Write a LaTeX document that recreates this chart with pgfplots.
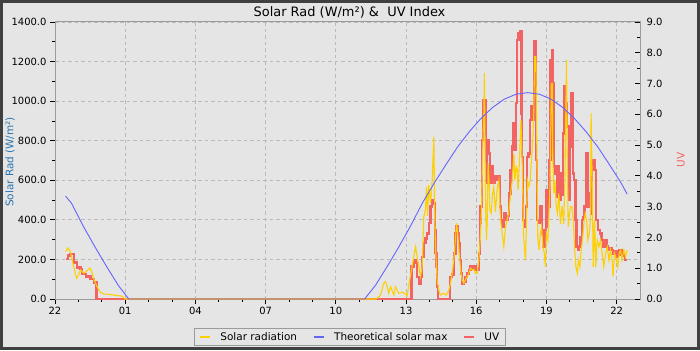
\documentclass[border=0pt]{standalone}
\usepackage{fontspec}
\setmainfont{DejaVu Sans}
\usepackage{pgfplots}
\pgfplotsset{compat=1.18}
\definecolor{bg}{RGB}{229,229,229}
\definecolor{framec}{RGB}{64,64,64}
\definecolor{axgray}{RGB}{155,155,155}
\definecolor{gridc}{RGB}{185,185,185}
\definecolor{solarc}{RGB}{255,208,0}
\definecolor{maxc}{RGB}{100,100,255}
\definecolor{uvc}{RGB}{242,100,100}
\definecolor{lblblue}{RGB}{40,115,175}
\pgfplotsset{
  base/.style={scale only axis, width=585bp, height=277bp, at={(55bp,51bp)}, anchor=south west,
    xmin=0, xmax=25,
    /pgf/number format/assume math mode=true,
    tick label style={font=\fontsize{10}{12}\selectfont, black},
    every tick/.style={black, line width=0.8bp},
    major tick length=5bp, minor tick length=3bp},
}
\begin{document}
\begin{tikzpicture}[x=1bp,y=1bp]
\fill[framec] (0,0) rectangle (700,350);
\fill[bg] (3,3) rectangle (697,347);
% base axis: grid, x axis, left y axis
\begin{axis}[base, ymin=0, ymax=1400,
  axis line style={axgray, line width=1bp},
  xtick={0,3,...,24}, xticklabels={22,01,04,07,10,13,16,19,22},
  minor xtick={1,2,4,5,7,8,10,11,13,14,16,17,19,20,22,23},
  ytick={0,200,...,1400}, minor ytick={100,300,...,1300},
  tick pos=left, tick align=outside,
  grid=major, major grid style={gridc, dash pattern=on 3.5bp off 3bp, line width=0.8bp},
  yticklabel style={/pgf/number format/.cd, fixed, fixed zerofill, precision=1, 1000 sep={}},
]
\addplot[draw=none] coordinates {(0,0)};
\end{axis}
% UV axis (right)
\begin{axis}[base, ymin=0, ymax=9,
  axis y line*=right, axis x line=none,
  axis line style={axgray, line width=1bp},
  ytick={0,1,...,9}, minor ytick={0.5,1.5,...,8.5},
  tick align=inside,
  yticklabel style={xshift=3bp, /pgf/number format/.cd, fixed, fixed zerofill, precision=1},
]
\addplot[const plot, uvc, line width=2.4bp] coordinates {
(0.45,1.30) (0.55,1.41) (0.66,1.46) (0.80,1.19) (0.95,1.03) (1.09,0.97) (1.16,0.81) (1.33,0.73) (1.52,0.65) (1.66,0.54) (1.77,0)
(15.23,1.05) (15.33,1.27) (15.41,1.17) (15.48,0.72) (15.55,0.51) (15.62,0.72) (15.69,1.37) (15.76,1.81) (15.83,1.97) (15.90,2.13) (15.97,2.46) (16.05,3.0) (16.12,3.22) (16.19,3.1) (16.23,2.24) (16.26,1.5) (16.30,1.05) (16.33,0.4) (16.36,0)
(16.88,0.72) (16.97,0.8) (17.04,1.48) (17.12,2.13) (17.16,2.35) (17.21,2.13) (17.26,1.81) (17.30,1.27) (17.36,0.83) (17.40,0.51) (17.47,0.55) (17.54,0.72) (17.61,0.83) (17.68,0.94) (17.76,1.05) (17.83,1.0) (17.90,1.05) (17.97,0.94) (18.04,0.94) (18.11,1.48) (18.15,2.46) (18.18,3.0) (18.26,5.17) (18.30,6.47) (18.41,3.76) (18.47,5.17) (18.53,4.73) (18.59,3.76) (18.66,4.3) (18.73,3.76) (18.80,4.0) (18.88,3.87) (18.95,4.0)
(19.02,3.0) (19.07,2.57) (19.12,2.35) (19.20,2.78) (19.26,2.57) (19.34,2.7) (19.40,3.43) (19.47,4.19) (19.54,4.95) (19.59,5.71) (19.63,4.84) (19.69,6.36) (19.74,8.41) (19.80,8.63) (19.87,8.69) (19.93,6.03) (19.96,4.62) (19.99,2.57)
(20.06,2.35) (20.12,3.0) (20.18,4.62) (20.24,4.73) (20.30,5.82) (20.35,6.25) (20.41,5.82) (20.46,7.12) (20.49,8.36) (20.56,4.52) (20.60,2.57) (20.66,2.46) (20.74,3.0) (20.80,2.13) (20.86,1.7) (20.92,2.24) (20.97,3.54)
(21.02,2.35) (21.07,3.0) (21.13,4.52) (21.18,7.76) (21.24,8.09) (21.28,7.01) (21.32,4.3) (21.38,4.08) (21.44,3.32) (21.50,4.3) (21.55,3.22) (21.61,4.08) (21.66,3.4) (21.71,5.38) (21.77,6.9) (21.83,6.36) (21.89,5.6) (21.96,3.22)
(22.00,4.95) (22.04,6.68) (22.13,4.08) (22.18,3.87) (22.24,2.57) (22.29,1.7) (22.34,1.59) (22.40,1.7) (22.46,2.02) (22.52,2.57) (22.58,2.67) (22.63,3.0) (22.69,4.73) (22.78,3.0) (22.84,3.43) (22.90,2.78) (22.96,4.52)
(23.06,4.19) (23.12,2.57) (23.20,2.24) (23.28,2.13) (23.36,1.92) (23.43,1.7) (23.50,1.92) (23.57,1.7) (23.64,1.59) (23.71,1.65) (23.78,1.59) (23.85,1.48) (23.92,1.55) (23.99,1.37)
(24.06,1.45) (24.13,1.59) (24.22,1.48) (24.31,1.40) (24.36,1.27) (24.45,1.27)
};
\end{axis}
% overlay axis: solar radiation and theoretical max, legend
\begin{axis}[base, ymin=0, ymax=1400, hide axis,
  legend columns=3,
  legend image code/.code={\draw[#1, line width=2bp] (0bp,3.5bp) -- (10bp,3.5bp);},
  legend style={at={(0.504,-0.1372)}, anchor=center, fill=bg, draw=axgray, line width=1bp,
    font=\fontsize{10.5}{12}\selectfont, inner xsep=5bp, inner ysep=3bp,
    nodes={inner sep=1bp, anchor=base},
    /tikz/every odd column/.append style={column sep=8bp},
    /tikz/every even column/.append style={column sep=15bp}},
]
\addplot[solarc, line width=1.1bp] coordinates {
(0.45,239) (0.55,259) (0.66,239) (0.80,163) (0.92,105) (1.0,120) (1.09,147) (1.23,131) (1.35,140) (1.49,157) (1.59,131) (1.66,101) (1.80,62) (1.94,34) (2.09,25) (2.23,25) (2.5,20) (2.87,14) (2.94,5) (3.0,0) (13.70,0)
(13.77,4) (13.91,20) (14.05,79) (14.12,88) (14.20,62) (14.26,29) (14.34,62) (14.48,20) (14.55,62) (14.69,29) (14.84,35) (14.98,25) (15.05,15) (15.12,71) (15.26,163) (15.33,214) (15.41,264) (15.48,210) (15.55,163) (15.62,113) (15.69,163) (15.76,416) (15.83,450) (15.88,568) (15.92,420) (15.97,576)
(16.05,484) (16.12,601) (16.19,820) (16.23,399) (16.26,264) (16.33,96) (16.40,45) (16.47,20) (16.62,29) (16.73,20) (16.83,45) (16.90,79) (16.97,130) (17.04,197) (17.12,315) (17.16,383) (17.21,332) (17.26,248) (17.30,197) (17.33,147) (17.40,96) (17.47,79) (17.54,96) (17.61,113) (17.68,130) (17.76,155) (17.83,147) (17.90,150) (17.97,130)
(18.04,130) (18.11,197) (18.18,315) (18.23,467) (18.26,652) (18.30,854) (18.32,905) (18.35,1141) (18.38,736) (18.41,433) (18.44,298) (18.47,399) (18.51,686) (18.56,568) (18.58,450) (18.64,433) (18.70,534) (18.75,568) (18.82,440) (18.90,560) (18.97,600)
(19.01,467) (19.04,399) (19.11,332) (19.18,264) (19.25,365) (19.32,399) (19.39,433) (19.47,534) (19.54,601) (19.61,736) (19.65,601) (19.71,669) (19.75,660) (19.79,551) (19.85,702) (19.91,905) (19.97,669)
(20.02,332) (20.08,231) (20.11,197) (20.15,399) (20.19,601) (20.25,568) (20.31,601) (20.36,702) (20.42,804) (20.46,955) (20.50,1225) (20.55,1225) (20.59,770) (20.63,315) (20.68,248) (20.74,332) (20.79,365) (20.85,264) (20.91,231) (20.96,163)
(21.00,332) (21.06,298) (21.10,399) (21.16,601) (21.21,1090) (21.25,1090) (21.27,736) (21.32,534) (21.36,601) (21.42,467) (21.47,433) (21.53,534) (21.60,380) (21.67,470) (21.74,380) (21.79,600) (21.86,1208) (21.89,736) (21.93,365) (21.99,433)
(22.03,467) (22.09,467) (22.15,399) (22.20,264) (22.26,163) (22.32,130) (22.37,197) (22.43,163) (22.49,248) (22.54,298) (22.60,383) (22.66,433) (22.72,399) (22.77,298) (22.83,332) (22.88,399) (22.91,939) (22.96,568)
(23.00,163) (23.06,399) (23.11,163) (23.17,298) (23.24,264) (23.31,298) (23.38,231) (23.45,163) (23.53,231) (23.60,264) (23.67,197) (23.74,248) (23.81,197) (23.85,113) (23.91,231)
(24.00,197) (24.05,163) (24.11,231) (24.17,248) (24.23,197) (24.31,248) (24.38,214) (24.45,248)
};
\addlegendentry{Solar radiation}
\addplot[maxc, line width=0.9bp] coordinates {
(0.45,520) (0.7,485) (1.2,370) (1.7,265) (2.2,165) (2.7,70) (3.15,0) (13.23,0) (13.7,70) (14.2,165) (14.7,265) (15.2,370) (15.7,485) (16.2,585) (16.7,678) (17.2,768) (17.7,845) (18.2,912) (18.7,968) (19.2,1010) (19.7,1035) (20.2,1043) (20.7,1035) (21.2,1010) (21.7,968) (22.2,912) (22.7,845) (23.2,768) (23.7,678) (24.2,585) (24.45,530)
};
\addlegendentry{Theoretical solar max}
\addlegendimage{uvc}
\addlegendentry{UV}
\end{axis}
\node[font=\fontsize{13}{15}\selectfont, anchor=base] at (349.5,334) {Solar Rad (W/m²) \&\ \ UV Index};
\node[rotate=90, text=lblblue, font=\fontsize{10.5}{12}\selectfont] at (10,188) {Solar Rad (W/m²)};
\node[rotate=90, text=uvc, font=\fontsize{10.5}{12}\selectfont] at (681,190) {UV};
\end{tikzpicture}
\end{document}
